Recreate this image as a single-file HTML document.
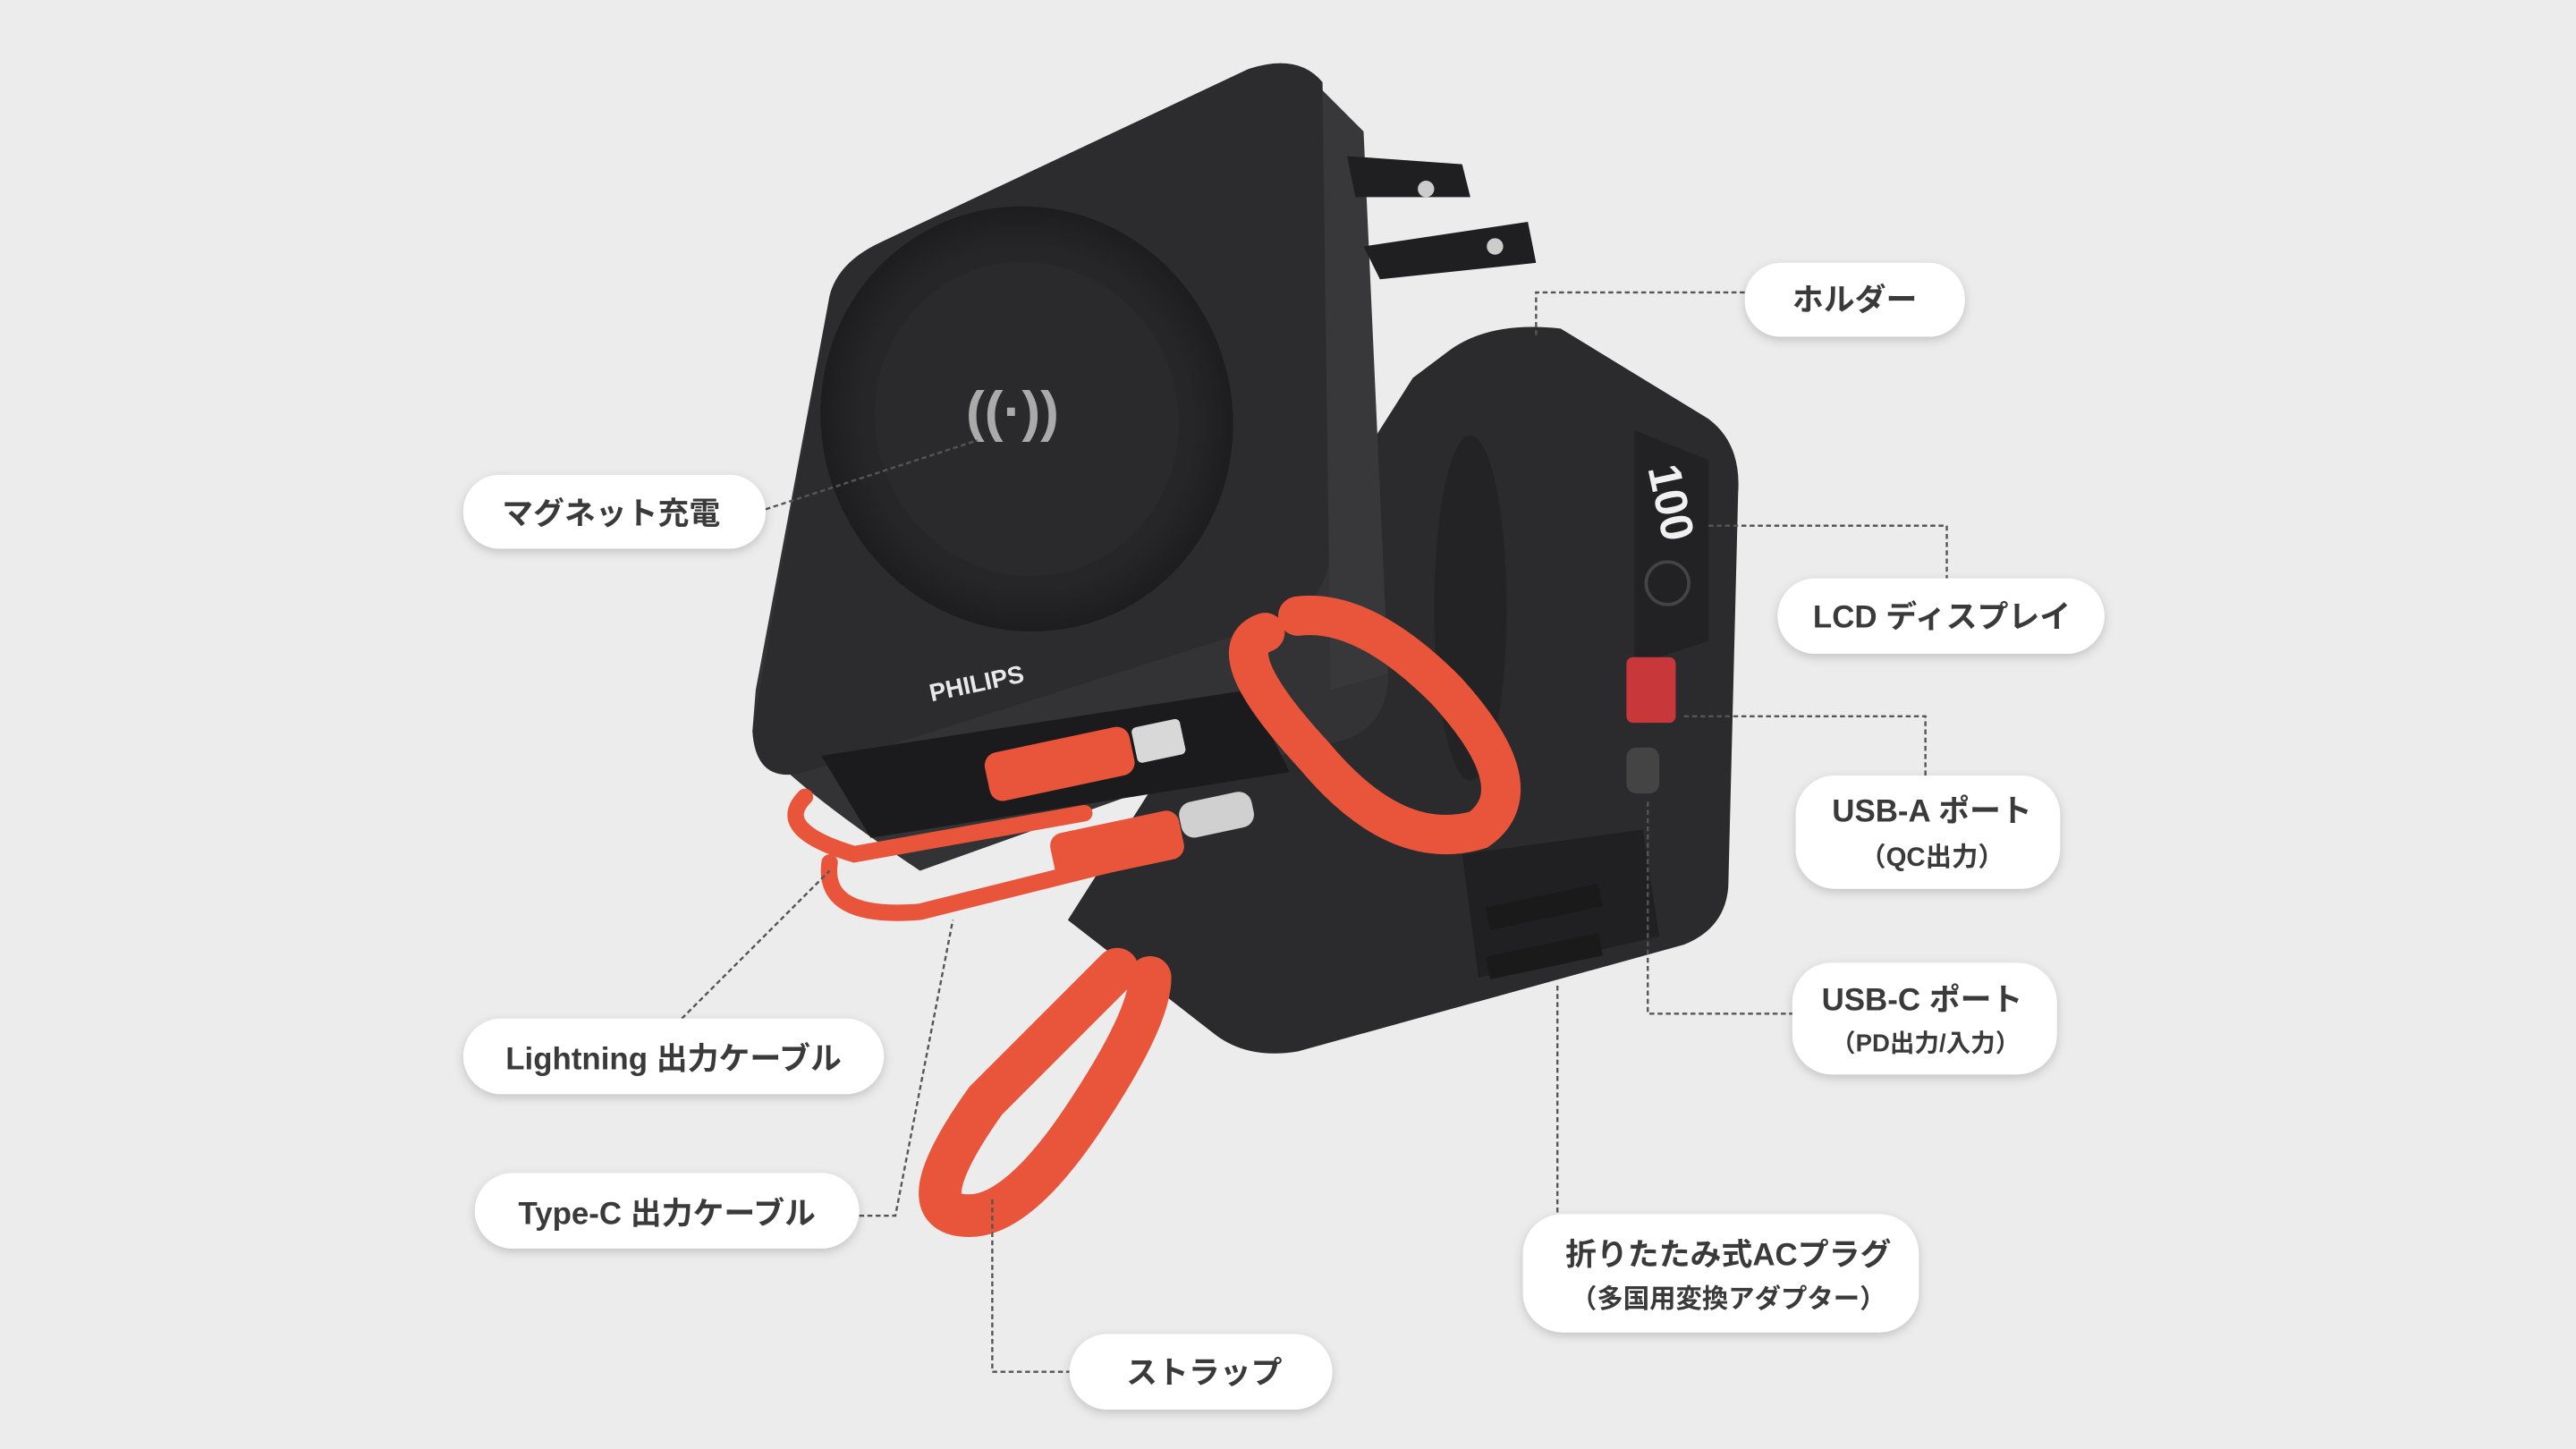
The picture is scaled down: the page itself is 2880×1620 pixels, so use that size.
<!DOCTYPE html>
<html><head><meta charset="utf-8"><style>
html,body{margin:0;padding:0;background:#ececec;}
svg{display:block;}
text{font-family:"Liberation Sans","Noto Sans CJK JP",sans-serif;font-weight:700;fill:#3a3a3a;}
</style></head><body>
<svg width="2880" height="1620" viewBox="0 0 1568 882" xmlns="http://www.w3.org/2000/svg">
<defs>
<filter id="sh" x="-20%" y="-30%" width="140%" height="170%"><feDropShadow dx="0" dy="2" stdDeviation="3" flood-color="#000" flood-opacity="0.18"/></filter>
<radialGradient id="pad" cx="50%" cy="50%" r="50%"><stop offset="0" stop-color="#2f2f31"/><stop offset="0.8" stop-color="#262628"/><stop offset="1" stop-color="#1d1d1f"/></radialGradient>
</defs>
<rect width="1568" height="882" fill="#ececec"/>

<!-- back cube -->
<path d="M880,215 Q905,195 950,200 L1040,255 Q1060,270 1058,300 L1052,540 Q1050,565 1025,575 L790,640 Q760,645 740,630 L650,560 L860,230 Z" fill="#2b2b2d"/>
<path d="M995,262 L1040,280 L1040,390 L995,405 Z" fill="#222224"/>
<text x="0" y="0" font-size="28" style="fill:#f0f0f0" transform="translate(1003,285) rotate(78)">100</text>
<circle cx="1015" cy="355" r="13" fill="none" stroke="#444" stroke-width="2"/>
<rect x="990" y="400" width="30" height="40" rx="4" fill="#c8383a"/>
<rect x="990" y="455" width="20" height="28" rx="6" fill="#444"/>
<ellipse cx="895" cy="370" rx="22" ry="105" fill="#232325"/>
<path d="M890,520 L1000,505 L1010,570 L900,595 Z" fill="#202022"/>
<rect x="905" y="545" width="70" height="14" fill="#1a1a1a" transform="rotate(-12 940 552)"/>
<rect x="905" y="575" width="70" height="14" fill="#1a1a1a" transform="rotate(-12 940 582)"/>

<!-- front cube -->
<path d="M505,180 Q510,160 535,148 L760,42 Q790,32 805,55 L830,90 L845,410 Q845,440 820,450 L700,480 L560,530 Q470,470 458,445 L460,420 Z" fill="#333335"/>
<path d="M505,180 Q510,160 535,148 L760,42 Q790,32 805,50 L810,330 Q810,365 780,378 L490,470 Q460,478 458,445 Z" fill="#2c2c2e"/>
<path d="M805,55 L830,80 L845,410 L810,420 Z" fill="#38383a"/>
<path d="M820,95 L890,100 L895,120 L825,120 Z" fill="#1f1f21"/>
<path d="M830,150 L930,135 L935,160 L840,170 Z" fill="#1f1f21"/>
<circle cx="868" cy="115" r="5" fill="#ccc"/><circle cx="910" cy="150" r="5" fill="#ccc"/>
<ellipse cx="625" cy="255" rx="125" ry="130" transform="rotate(-20 625 255)" fill="url(#pad)"/>
<ellipse cx="625" cy="255" rx="92" ry="96" transform="rotate(-20 625 255)" fill="#2a2a2c"/>
<text x="588" y="262" font-size="34" style="fill:#aaa">((·))</text>
<text x="565" y="422" font-size="15" style="fill:#e8e8e8" transform="rotate(-12 590 415)">PHILIPS</text>
<path d="M500,460 L760,420 L785,470 L530,510 Z" fill="#1b1b1d"/>

<g fill="none" stroke="#e8553a" stroke-linecap="round">
<path d="M490,485 Q470,505 520,520 L660,495" stroke-width="10"/>
<path d="M505,525 Q500,560 560,555 L680,525" stroke-width="10"/>
<path d="M770,385 Q740,395 800,460 Q850,520 900,505 Q935,480 880,420 Q830,370 790,375" stroke-width="24"/>
<path d="M680,590 Q650,620 600,670 Q550,740 590,740 Q620,740 660,680 Q700,620 700,595" stroke-width="26"/>
</g>
<rect x="600" y="450" width="90" height="30" rx="8" fill="#e8553a" transform="rotate(-12 645 465)"/>
<rect x="690" y="440" width="30" height="22" rx="3" fill="#d8d8d8" transform="rotate(-12 705 450)"/>
<rect x="640" y="500" width="80" height="30" rx="8" fill="#e8553a" transform="rotate(-12 680 515)"/>
<rect x="718" y="485" width="45" height="22" rx="8" fill="#d0d0d0" transform="rotate(-12 740 496)"/>

<g fill="none" stroke="#555" stroke-width="1.3" stroke-dasharray="3,2">
<path d="M1062,178 L935,178 L935,205"/>
<path d="M466,310 L595,268"/>
<path d="M1040,320 L1185,320 L1185,352"/>
<path d="M1025,436 L1172,436 L1172,472"/>
<path d="M1003,488 L1003,617 L1091,617"/>
<path d="M415,620 L505,530"/>
<path d="M523,740 L545,740 L580,560"/>
<path d="M948,600 L948,739"/>
<path d="M604,730 L604,835 L651,835"/>
</g>

<g fill="#fff" filter="url(#sh)">
<rect x="1062" y="160" width="134" height="45" rx="22"/>
<rect x="282" y="289" width="184" height="45" rx="22"/>
<rect x="1082" y="352" width="199" height="46" rx="23"/>
<rect x="1093" y="472" width="161" height="69" rx="24"/>
<rect x="1091" y="586" width="161" height="68" rx="24"/>
<rect x="282" y="620" width="256" height="46" rx="23"/>
<rect x="289" y="714" width="234" height="46" rx="23"/>
<rect x="927" y="739" width="241" height="72" rx="24"/>
<rect x="651" y="812" width="160" height="46" rx="23"/>
</g>
<g font-size="19" text-anchor="middle">
<text x="1129" y="189">ホルダー</text>
<text x="372" y="319">マグネット充電</text>
<text x="1182" y="382">LCD ディスプレイ</text>
<text x="1176" y="500">USB-A ポート</text>
<text x="1176" y="527" font-size="16">（QC出力）</text>
<text x="1170" y="615">USB-C ポート</text>
<text x="1172" y="640" font-size="15">（PD出力/入力）</text>
<text x="410" y="651">Lightning 出力ケーブル</text>
<text x="406" y="745">Type-C 出力ケーブル</text>
<text x="1052" y="770">折りたたみ式ACプラグ</text>
<text x="1052" y="796" font-size="16">（多国用変換アダプター）</text>
<text x="733" y="842">ストラップ</text>
</g>
</svg>
</body></html>
